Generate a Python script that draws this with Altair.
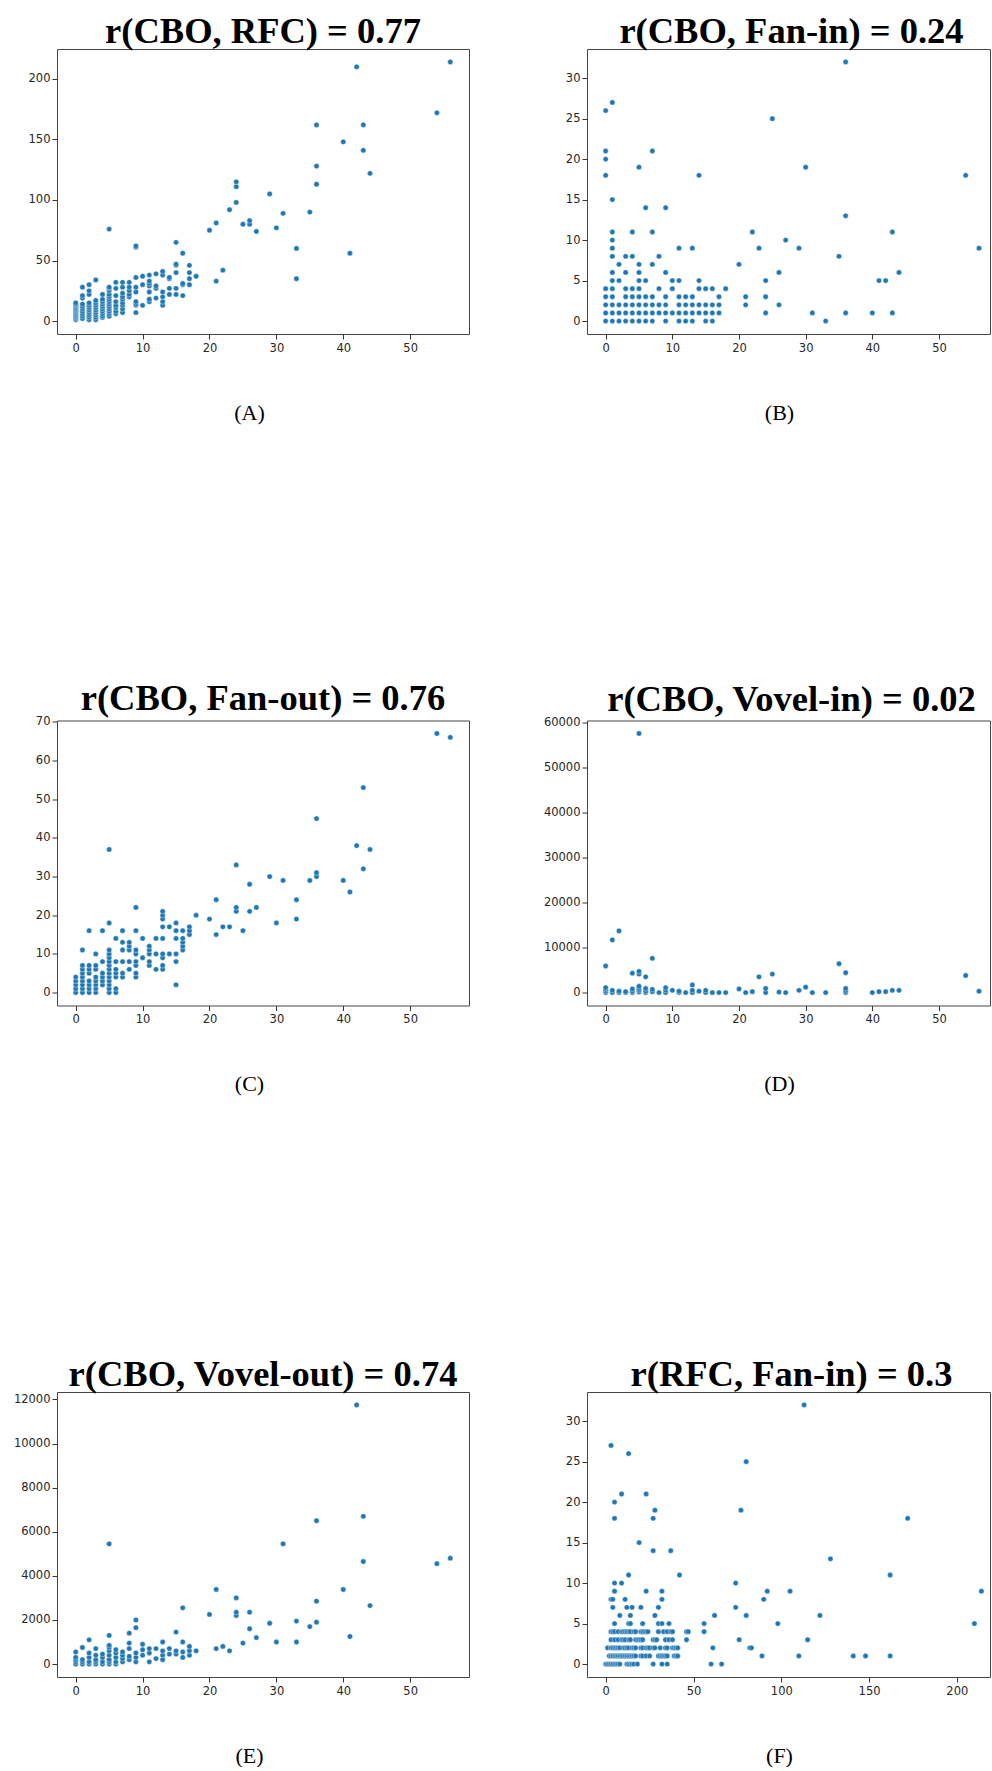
import altair as alt
import pandas as pd

# ---------------- data ----------------
# Panel A: x = CBO, y = RFC (grouped by CBO value)
A_cbo = [0, 1, 2, 3, 4, 5, 6, 7, 8, 9, 10, 11, 12, 13, 14, 15, 16, 17, 18,
         20, 21, 22, 23, 24, 25, 26, 27, 29, 30, 31, 33, 35, 36, 40, 41, 42, 43, 44, 54, 56]
A_rfc = [
    [1, 2, 3, 4, 5, 6, 7, 8, 9, 10, 11, 12, 13, 14, 15],
    [2, 4, 6, 8, 10, 12, 14, 19, 21, 28],
    [1, 3, 5, 7, 9, 11, 13, 15, 22, 25, 30],
    [1, 3, 5, 7, 9, 11, 13, 15, 17, 34],
    [3, 4, 6, 8, 10, 12, 14, 16, 18, 22],
    [4, 6, 8, 10, 12, 14, 16, 18, 20, 22, 25, 27, 28, 76],
    [6, 8, 11, 13, 16, 21, 27, 32],
    [7, 10, 13, 15, 18, 20, 23, 28, 32],
    [20, 22, 25, 28, 32],
    [7, 13, 14, 16, 24, 28, 36, 61, 62],
    [13, 30, 37],
    [16, 18, 24, 29, 31, 33, 38],
    [19, 27, 29, 39],
    [13, 16, 20, 24, 38, 41],
    [22, 27, 35, 36],
    [22, 27, 40, 46, 47, 65],
    [21, 30, 31, 56],
    [30, 35, 40, 46],
    [37],
    [75], [33, 81], [42], [92], [98, 111, 115], [80], [80, 83], [74], [105], [77],
    [89], [35, 60], [90], [113, 128, 162], [148], [56], [210], [141, 162], [122],
    [172], [214],
]

# Panel B: x = CBO, y = Fan-in (grouped by Fan-in value)
B_fanin = [0, 1, 2, 3, 4, 5, 6, 7, 8, 9, 10, 11, 13, 14, 15, 18, 19, 20, 21, 25, 26, 27, 32]
B_cbo = [
    [0, 1, 2, 3, 4, 5, 6, 7, 9, 11, 12, 13, 15, 16, 33],
    [0, 1, 2, 3, 4, 5, 6, 7, 8, 9, 10, 11, 12, 13, 14, 15, 16, 17, 24, 31, 36, 40, 43],
    [0, 1, 2, 3, 4, 5, 6, 7, 8, 9, 11, 12, 13, 14, 15, 16, 17, 21, 26],
    [0, 1, 3, 4, 5, 6, 7, 9, 11, 12, 13, 17, 21, 24],
    [0, 1, 3, 4, 5, 8, 10, 14, 15, 16, 18],
    [1, 2, 5, 6, 10, 11, 14, 24, 41, 42],
    [1, 3, 5, 9, 26, 44],
    [2, 5, 7, 20],
    [1, 3, 4, 8, 35],
    [1, 11, 13, 23, 29, 56],
    [1, 27],
    [1, 4, 7, 22, 43],
    [36], [6, 9], [1], [0, 14, 54], [5, 30], [0], [0, 7], [25], [0], [1], [36],
]

# Panel C: x = CBO, y = Fan-out (grouped by CBO value)
C_cbo = [0, 1, 2, 3, 4, 5, 6, 7, 8, 9, 10, 11, 12, 13, 14, 15, 16, 17, 18,
         20, 21, 22, 23, 24, 25, 26, 27, 29, 30, 31, 33, 35, 36, 40, 41, 42, 43, 44, 54, 56]
C_fanout = [
    [0, 1, 2, 3, 4],
    [0, 1, 2, 3, 4, 5, 6, 7, 11],
    [0, 1, 2, 3, 5, 6, 7, 16],
    [0, 1, 2, 3, 4, 6, 7, 10],
    [2, 3, 4, 5, 8, 16],
    [0, 1, 2, 3, 4, 5, 6, 7, 8, 9, 10, 11, 18, 37],
    [0, 1, 4, 5, 6, 8, 14],
    [4, 5, 8, 11, 13, 16],
    [6, 8, 11, 12, 13],
    [4, 5, 7, 8, 10, 11, 16, 22],
    [9, 14],
    [7, 8, 10, 11, 12],
    [6, 10, 14],
    [6, 7, 9, 10, 14, 17, 19, 20, 21],
    [10, 17],
    [2, 8, 10, 14, 16, 18],
    [11, 12, 13, 14, 16],
    [15, 16, 17],
    [20],
    [19], [15, 24], [17], [17], [21, 22, 33], [16], [21, 28], [22], [30], [18],
    [29], [19, 24], [29], [30, 31, 45], [29], [26], [38], [32, 53], [37], [67], [66],
]

# Panel D: x = CBO, y = Vovel-in (grouped by CBO value)
D_cbo = [0, 1, 2, 3, 4, 5, 6, 7, 8, 9, 10, 11, 12, 13, 14, 15, 16, 17, 18,
         20, 21, 22, 23, 24, 25, 26, 27, 29, 30, 31, 33, 35, 36, 40, 41, 42, 43, 44, 54, 56]
D_vin = [
    [0, 300, 700, 1100, 5900],
    [0, 500, 11700],
    [0, 300, 13700],
    [0, 200],
    [0, 300, 800, 4300],
    [100, 500, 900, 1400, 4100, 4700, 57600],
    [0, 300, 900, 3500],
    [200, 700, 7600],
    [0],
    [0, 500, 1100],
    [500],
    [0, 300],
    [0],
    [0, 500, 1700],
    [300],
    [0, 500],
    [0], [0], [0],
    [800], [0], [200], [3500], [0, 900], [4100], [100], [0], [500], [1200],
    [0], [0], [6400], [0, 400, 900, 4400], [0], [200], [200], [500], [500], [3800], [300],
]

# Panel E: x = CBO, y = Vovel-out (grouped by CBO value)
E_cbo = [0, 1, 2, 3, 4, 5, 6, 7, 8, 9, 10, 11, 12, 13, 14, 15, 16, 17, 18,
         20, 21, 22, 23, 24, 25, 26, 27, 29, 30, 31, 33, 35, 36, 40, 41, 42, 43, 44, 54, 56]
E_vout = [
    [0, 100, 200, 300, 550],
    [0, 100, 200, 750],
    [0, 100, 300, 500, 1100],
    [0, 100, 200, 400, 700],
    [0, 100, 300, 450],
    [0, 100, 200, 400, 600, 750, 850, 1300, 5450],
    [0, 100, 300, 500, 650],
    [100, 250, 400, 550],
    [200, 350, 700, 950, 1400],
    [100, 300, 500, 1650, 2000],
    [400, 650, 900],
    [100, 500, 700],
    [250, 700],
    [200, 400, 600, 1000],
    [450, 700],
    [450, 600, 1450],
    [300, 550, 1000, 2550],
    [400, 600, 800],
    [600],
    [2250], [700, 3380], [800], [600], [2200, 2350, 3000], [950], [1600, 2350], [1200],
    [1850], [1000], [5450], [1000, 1950], [1700], [1900, 2850, 6500], [3380], [1250],
    [11750], [4650, 6700], [2650], [4550], [4800],
]

# Panel F: x = RFC, y = Fan-in (grouped by Fan-in value)
F_fanin = [0, 1, 2, 3, 4, 5, 6, 7, 8, 9, 10, 11, 13, 14, 15, 18, 19, 20, 21, 25, 26, 27, 32]
F_rfc = [
    [0, 1, 2, 3, 4, 5, 6, 7, 8, 12, 13, 14, 15, 16, 18, 27, 32, 35, 60, 66],
    [2, 3, 4, 5, 6, 7, 8, 9, 10, 11, 12, 13, 14, 15, 16, 17, 20, 21, 23, 25, 30, 31, 32,
     33, 34, 35, 39, 40, 41, 89, 110, 141, 148, 162],
    [1, 3, 4, 5, 6, 7, 8, 10, 11, 12, 13, 15, 16, 17, 20, 21, 23, 24, 25, 27, 28, 31, 34,
     35, 38, 39, 40, 41, 61, 82, 83],
    [3, 5, 7, 9, 10, 11, 13, 14, 17, 18, 19, 20, 21, 27, 28, 29, 34, 36, 38, 46, 76, 115],
    [3, 4, 5, 7, 9, 10, 11, 12, 13, 14, 16, 17, 20, 21, 22, 23, 24, 30, 33, 35, 37, 38,
     46, 47, 56],
    [5, 13, 14, 21, 30, 32, 36, 56, 98, 210],
    [8, 14, 28, 62, 80, 122],
    [4, 12, 15, 20, 30, 74],
    [3, 4, 11, 32, 90],
    [5, 23, 32, 92, 105, 214],
    [5, 9, 74],
    [13, 42, 162],
    [128], [27, 37], [19], [5, 27, 172], [28, 77], [5], [9, 23], [80], [13], [3], [113],
]

TITLES = ["r(CBO, RFC) = 0.77", "r(CBO, Fan-in) = 0.24", "r(CBO, Fan-out) = 0.76",
          "r(CBO, Vovel-in) = 0.02", "r(CBO, Vovel-out) = 0.74", "r(RFC, Fan-in) = 0.3"]
CAPTIONS = ["(A)", "(B)", "(C)", "(D)", "(E)", "(F)"]

CBO_TICKS = [0, 10, 20, 30, 40, 50]
RFC_TICKS = [0, 50, 100, 150, 200]


def by_x(levels, groups):
    xs, ys = [], []
    for lv, vals in zip(levels, groups):
        for v in vals:
            xs.append(lv)
            ys.append(v)
    return pd.DataFrame({"x": xs, "y": ys})


def by_y(levels, groups):
    xs, ys = [], []
    for lv, vals in zip(levels, groups):
        for v in vals:
            xs.append(v)
            ys.append(lv)
    return pd.DataFrame({"x": xs, "y": ys})


LEFT_W = 412
RIGHT_W = 403
H = 285


def panel(df, idx, xdom, ydom, xticks, yticks, right):
    return alt.Chart(
        df,
        title=alt.TitleParams(
            text=TITLES[idx], font="Liberation Serif", fontSize=36.5,
            fontWeight="bold", color="black", anchor="middle", frame="group",
            offset=-30.5, baseline="alphabetic", dx=3 if right else 0,
        ),
    ).mark_circle(
        size=28, color="#1f77b4", opacity=1, stroke="white", strokeWidth=0.4
    ).encode(
        x=alt.X("x:Q", scale=alt.Scale(domain=xdom, nice=False, zero=False),
                axis=alt.Axis(values=xticks, format="d", title=CAPTIONS[idx],
                              titleX=192, titleY=78, titleBaseline="middle",
                              titleAlign="center", labelPadding=3)),
        y=alt.Y("y:Q", scale=alt.Scale(domain=ydom, nice=False, zero=False),
                axis=alt.Axis(values=yticks, format="d", title=None)),
    ).properties(width=RIGHT_W if right else LEFT_W, height=H)


pA = panel(by_x(A_cbo, A_rfc), 0, [-2.8, 58.8], [-10.7, 224.7],
           CBO_TICKS, [0, 50, 100, 150, 200], False)
pB = panel(by_y(B_fanin, B_cbo), 1, [-2.8, 57.65], [-1.6, 33.6],
           CBO_TICKS, [0, 5, 10, 15, 20, 25, 30], True)
pC = panel(by_x(C_cbo, C_fanout), 2, [-2.8, 58.8], [-3.35, 70.35],
           CBO_TICKS, [0, 10, 20, 30, 40, 50, 60, 70], False)
pD = panel(by_x(D_cbo, D_vin), 3, [-2.8, 57.65], [-2880, 60480],
           CBO_TICKS, [0, 10000, 20000, 30000, 40000, 50000, 60000], True)
pE = panel(by_x(E_cbo, E_vout), 4, [-2.8, 58.8], [-587.5, 12337.5],
           CBO_TICKS, [0, 2000, 4000, 6000, 8000, 10000, 12000], False)
pF = panel(by_y(F_fanin, F_rfc), 5, [-10.7, 218.9], [-1.6, 33.6],
           RFC_TICKS, [0, 5, 10, 15, 20, 25, 30], True)

chart = alt.concat(
    pA, pB, pC, pD, pE, pF, columns=2,
    spacing={"row": 386.5, "column": 118}, bounds="flush",
).configure_view(
    stroke="#444444", strokeWidth=1
).configure_axis(
    labelFont="DejaVu Sans", labelFontSize=11.5, labelColor="#262626",
    tickColor="#333333", tickSize=5, tickWidth=1, labelPadding=2,
    domain=False, grid=False, labelFlush=False, labelOverlap=False,
    titleFont="Liberation Serif", titleFontSize=22, titleFontWeight="normal",
    titleColor="black",
).properties(
    padding={"left": 12, "top": 13, "right": 0, "bottom": 0},
    background="white",
)

chart.save("out.html", embed_options={"renderer": "svg", "actions": False})
